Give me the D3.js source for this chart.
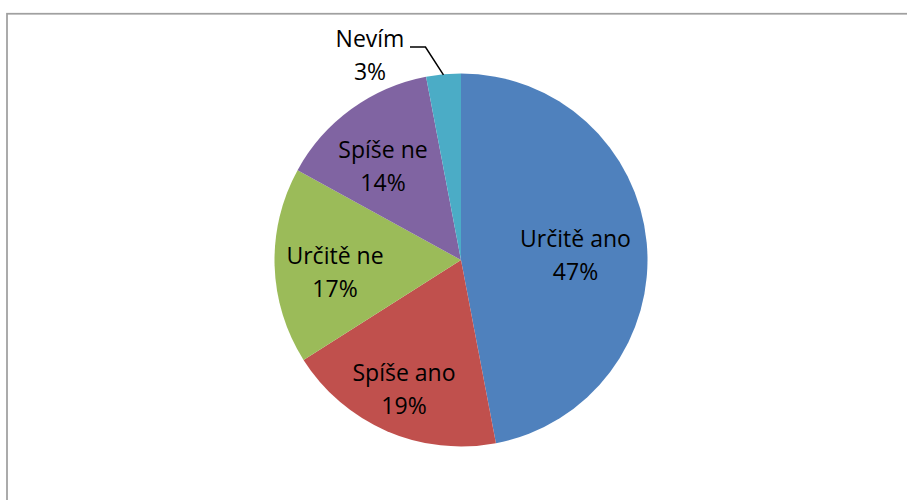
<!DOCTYPE html>
<html>
<head>
<meta charset="utf-8">
<script src="https://cdn.jsdelivr.net/npm/d3@7"></script>
<style>
body { margin: 0; background: #fff; }
.lbl { font-family: "Open Sans", sans-serif; font-size: 23px; fill: #000; }
</style>
</head>
<body>
<svg id="chart" width="907" height="500"></svg>
<script>
// data
var categories = ["Určitě ano", "Spíše ano", "Určitě ne", "Spíše ne", "Nevím"];
var values = [47, 19, 17, 14, 3];
var colors = ["#4F81BD", "#C0504D", "#9BBB59", "#8064A2", "#4BACC6"];

// label anchors (x centre, first baseline), relative to pie centre
var label_pos = {
	"Určitě ano": [114.5, -13],
	"Spíše ano": [-57, 121],
	"Určitě ne": [-126, 4],
	"Spíše ne": [-78, -102],
	"Nevím": [-91, -213]
};

var cx = 461, cy = 260, r = 186.5;

var svg = d3.select("#chart");

// chart frame
svg.append("rect")
	.attr("x", 7)
	.attr("y", 13.75)
	.attr("width", 920)
	.attr("height", 520)
	.attr("fill", "none")
	.attr("stroke", "#a0a0a0")
	.attr("stroke-width", 1.75);

var data = categories.map(function(c, i){ return {name: c, value: values[i], color: colors[i]}; });

var pie = d3.pie()
	.sort(null)
	.value(function(d){ return d.value; });

var arc = d3.arc()
	.innerRadius(0)
	.outerRadius(r);

var g = svg.append("g")
	.attr("transform", "translate(" + cx + "," + cy + ")");

var arcs = pie(data);

g.selectAll("path.slice")
	.data(arcs)
	.enter().append("path")
	.attr("class", "slice")
	.attr("d", arc)
	.attr("fill", function(d){ return d.data.color; });

// leader line for the small slice
var small = arcs[4];
var mid = (small.startAngle + small.endAngle) / 2;
var ex = r * Math.sin(mid), ey = -r * Math.cos(mid);
g.append("polyline")
	.attr("points", [[ex, ey + 0.5], [ex - 18, -213], [-51, -213]].map(function(p){ return p.join(","); }).join(" "))
	.attr("fill", "none")
	.attr("stroke", "#000")
	.attr("stroke-width", 1.5);

// labels
arcs.forEach(function(d){
	var p = label_pos[d.data.name];
	var t = g.append("text")
		.attr("class", "lbl")
		.attr("text-anchor", "middle");
	t.append("tspan")
		.attr("x", p[0])
		.attr("y", p[1])
		.text(d.data.name);
	t.append("tspan")
		.attr("x", p[0])
		.attr("y", p[1] + 33)
		.text(d.data.value + "%");
});
</script>
</body>
</html>
